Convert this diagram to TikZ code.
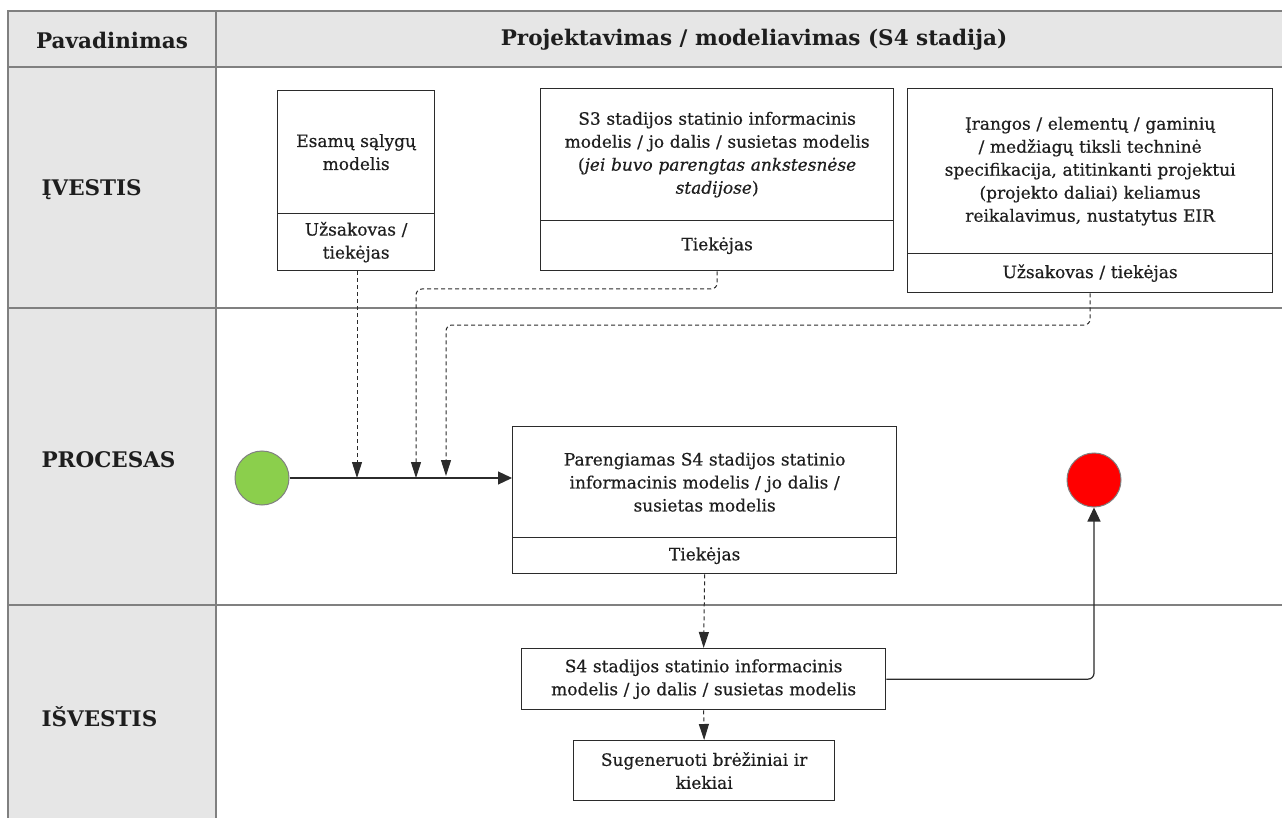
\documentclass[tikz,border=0pt]{standalone}
\usepackage{fontspec}
\setmainfont{DejaVu Serif}
\newfontfamily\boxfont{DejaVu Serif}[FakeBold=0.5]
\usetikzlibrary{arrows.meta}

\definecolor{lanegrey}{HTML}{E6E6E6}
\definecolor{gridline}{HTML}{808080}
\definecolor{boxline}{HTML}{2B2B2B}
\definecolor{startgreen}{HTML}{8BCF4C}
\definecolor{endred}{HTML}{FF0000}
\definecolor{ink}{HTML}{1E1E1E}

\tikzset{
  grid/.style={draw=gridline, line width=1.4pt},
  lanelabel/.style={anchor=west, font=\fontsize{21.5}{25}\selectfont\bfseries, text=ink},
  headlabel/.style={font=\fontsize{21.5}{25}\selectfont\bfseries, text=ink},
  part/.style={draw=boxline, line width=1.3pt, rectangle, anchor=north west,
    inner sep=0pt, align=center, font=\boxfont\fontsize{17}{23}\selectfont, text=ink},
  event/.style={circle, draw=gridline, line width=1pt, minimum size=54pt, inner sep=0pt},
  flow/.style={draw=boxline, line width=1.2pt, -{Triangle[length=14pt,width=13pt]}},
  dataflow/.style={draw=boxline, line width=1pt, dash pattern=on 4pt off 3pt,
    -{Triangle[length=16pt,width=10pt]}, rounded corners=6pt},
}

\begin{document}
\begin{tikzpicture}[x=1pt, y=-1pt]
\useasboundingbox (0,0) rectangle (1282,818);
\fill[white] (0,0) rectangle (1282,818);

% swimlane table
\fill[lanegrey] (8,11) rectangle (1282,67);
\fill[lanegrey] (8,67) rectangle (216,818);
\draw[grid] (8,818) -- (8,11) -- (1282,11);
\draw[grid] (8,67) -- (1282,67);
\draw[grid] (8,308) -- (1282,308);
\draw[grid] (8,605) -- (1282,605);
\draw[grid] (216,11) -- (216,818);

\node[headlabel] (hname) at (112,40) {Pavadinimas};
\node[headlabel] (hstage) at (754,40) {Projektavimas / modeliavimas (S4 stadija)};
\node[lanelabel] (lin) at (38,190) {ĮVESTIS};
\node[lanelabel] (lproc) at (38,460) {PROCESAS};
\node[lanelabel] (lout) at (38,717) {IŠVESTIS};

% inputs
\node[part, minimum width=157pt, minimum height=123pt, text width=145pt] (aT) at (277,90)
  {Esamų sąlygų\\modelis};
\node[part, minimum width=157pt, minimum height=57pt, text width=145pt] (aB) at (277,213)
  {Užsakovas /\\tiekėjas};

\node[part, minimum width=353pt, minimum height=132pt, text width=340pt] (bT) at (540,88)
  {S3 stadijos statinio informacinis\\modelis / jo dalis / susietas modelis\\(\textit{jei buvo parengtas ankstesnėse}\\\textit{stadijose})};
\node[part, minimum width=353pt, minimum height=50pt, text width=340pt] (bB) at (540,220)
  {Tiekėjas};

\node[part, minimum width=365pt, minimum height=165pt, text width=352pt] (cT) at (907,88)
  {Įrangos / elementų / gaminių\\/ medžiagų tiksli techninė\\specifikacija, atitinkanti projektui\\(projekto daliai) keliamus\\reikalavimus, nustatytus EIR};
\node[part, minimum width=365pt, minimum height=39pt, text width=352pt] (cB) at (907,253)
  {Užsakovas / tiekėjas};

% process
\node[event, fill=startgreen] (start) at (262,478) {};
\node[event, fill=endred] (finish) at (1094,480) {};

\node[part, minimum width=384pt, minimum height=111pt, text width=370pt] (pT) at (512,426)
  {Parengiamas S4 stadijos statinio\\informacinis modelis / jo dalis /\\susietas modelis};
\node[part, minimum width=384pt, minimum height=36pt, text width=370pt] (pB) at (512,537)
  {Tiekėjas};

% outputs
\node[part, minimum width=364pt, minimum height=61pt, text width=350pt] (out) at (521,648)
  {S4 stadijos statinio informacinis\\modelis / jo dalis / susietas modelis};
\node[part, minimum width=261pt, minimum height=60pt, text width=250pt] (gen) at (573,740)
  {Sugeneruoti brėžiniai ir\\kiekiai};

% merge points on the main flow
\coordinate (m1) at (357,478);
\coordinate (m2) at (416,478);
\coordinate (m3) at (446,476);
\coordinate (bend2) at (416,289);
\coordinate (bend3) at (446,325);

\draw[flow] (start.east) -- (start.east -| pT.west);
\draw[dataflow] (aB.south -| m1) -- (m1);
\draw[dataflow] (bB.south) |- (bend2) -- (m2);
\draw[dataflow] (cB.south) |- (bend3) -- (m3);
\draw[dataflow] (pB.south) -- (out.north);
\draw[dataflow] (out.south) -- (gen.north);
\draw[flow, rounded corners=6pt] (out.east) -| (finish.south);
\end{tikzpicture}
\end{document}
